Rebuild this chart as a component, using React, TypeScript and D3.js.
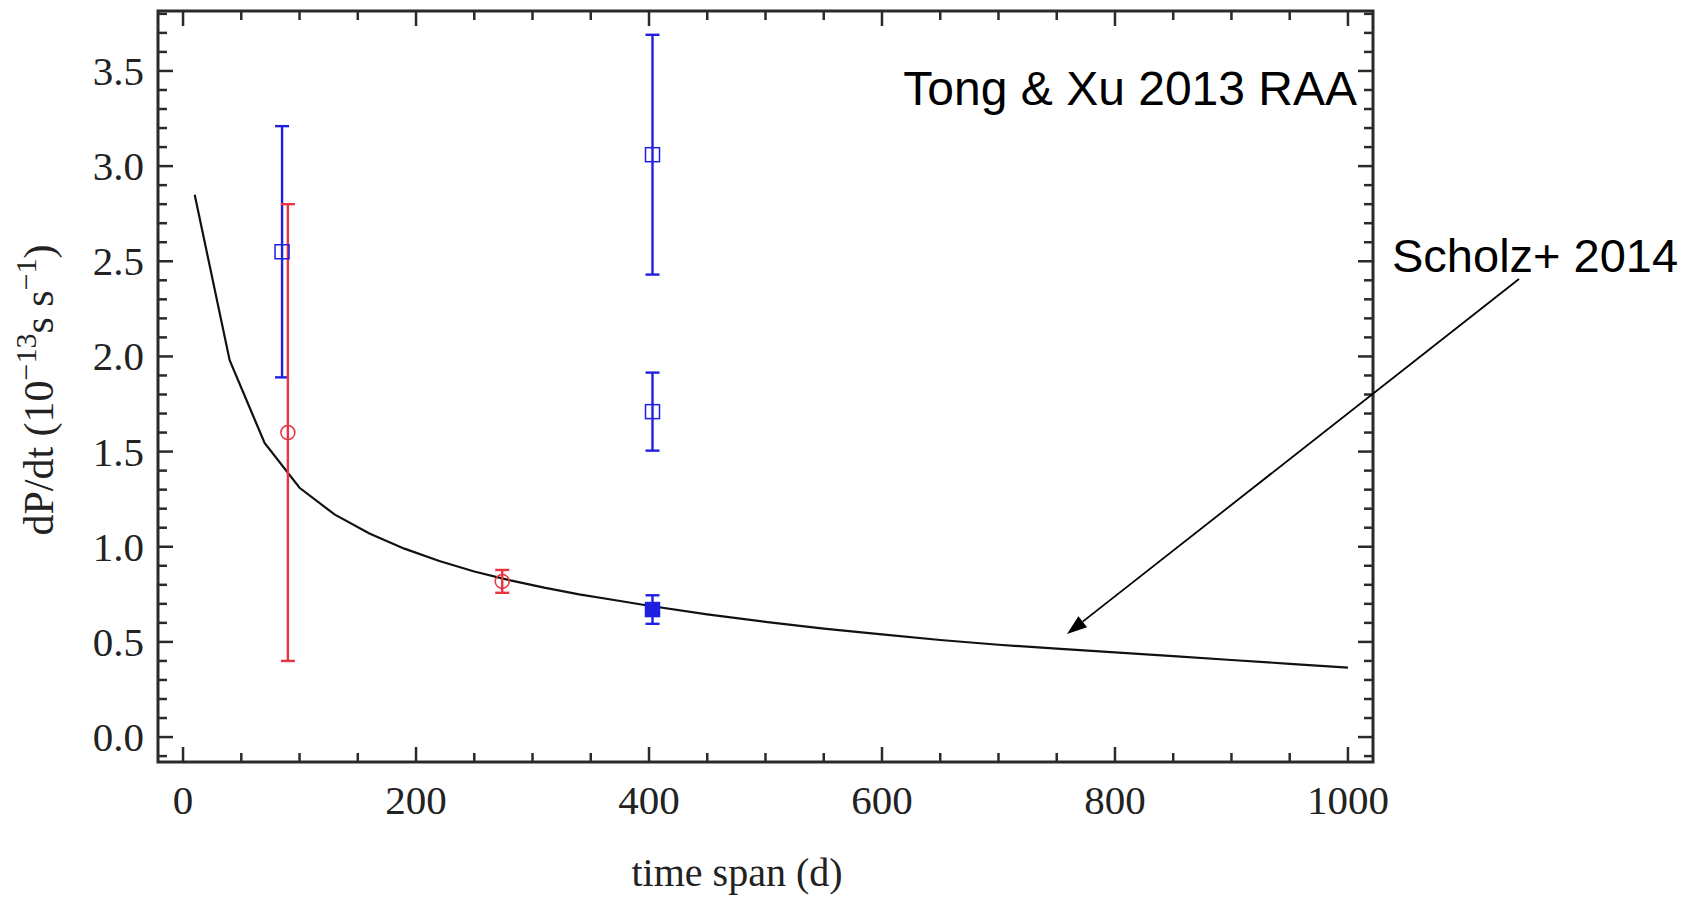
import * as d3 from "d3";

// model curve (Scholz+ 2014)
const curveT = [10, 40, 70, 100, 130, 160, 190, 220, 250, 280, 310, 340, 370, 400, 450, 500, 550, 600, 650, 700, 750, 800, 850, 900, 950, 1000];
const curveDPdt = [2.85, 1.98, 1.545, 1.31, 1.17, 1.07, 0.99, 0.925, 0.87, 0.825, 0.785, 0.75, 0.72, 0.69, 0.645, 0.605, 0.57, 0.54, 0.51, 0.485, 0.465, 0.445, 0.425, 0.405, 0.385, 0.365];

// open blue squares
const blueT = [85, 403, 403];
const blueVal = [2.55, 3.06, 1.71];
const blueErr = [0.66, 0.63, 0.205];

// filled blue square
const filledT = [403];
const filledVal = [0.67];
const filledErr = [0.075];

// open red circles
const redT = [90, 274];
const redVal = [1.6, 0.818];
const redErr = [1.2, 0.06];

const xTickLabels = [0, 200, 400, 600, 800, 1000];
const yTickLabels = ["0.0", "0.5", "1.0", "1.5", "2.0", "2.5", "3.0", "3.5"];

const W = 1704;
const H = 902;
const BLUE = "#1f1fe0";
const RED = "#e8343f";
const AXIS = "#2a2a2a";
const serif = "'Liberation Serif', 'DejaVu Serif', serif";
const sans = "'Liberation Sans', Arial, sans-serif";

export default function App() {
  const x = d3.scaleLinear().domain([-21.5, 1021.5]).range([158, 1373]);
  const y = d3.scaleLinear().domain([-0.131, 3.815]).range([762, 11]);
  const [x0, x1] = x.range();
  const [y0, y1] = y.range();

  const line = d3
    .line<number>()
    .x((_, i) => x(curveT[i]))
    .y((d) => y(d))
    .curve(d3.curveLinear);

  const xMinor = d3.range(0, 1001, 50);
  const yMinor = d3.range(-1, 39).map((v) => v / 10);
  const majLen = 15;
  const minLen = 9;
  const capW = 14;
  const sq = 14;

  const errBar = (t: number, v: number, e: number, color: string, key: string) => (
    <g key={key} stroke={color} strokeWidth={2.4}>
      <line x1={x(t)} x2={x(t)} y1={y(v + e)} y2={y(v - e)} />
      <line x1={x(t) - capW / 2} x2={x(t) + capW / 2} y1={y(v + e)} y2={y(v + e)} />
      <line x1={x(t) - capW / 2} x2={x(t) + capW / 2} y1={y(v - e)} y2={y(v - e)} />
    </g>
  );

  // arrow geometry
  const ax0 = 1519, ay0 = 279, ax1 = 1067, ay1 = 634;
  const ang = Math.atan2(ay1 - ay0, ax1 - ax0);
  const hl = 20, hw = 7;
  const bx = ax1 - hl * Math.cos(ang), by = ay1 - hl * Math.sin(ang);
  const head = [
    [ax1, ay1],
    [bx + hw * Math.sin(ang), by - hw * Math.cos(ang)],
    [bx - hw * Math.sin(ang), by + hw * Math.cos(ang)],
  ]
    .map((p) => p.join(","))
    .join(" ");

  return (
    <div style={{ position: "fixed", left: 0, top: 0, background: "#fff" }}>
      <svg width={W} height={H} viewBox={`0 0 ${W} ${H}`}>
        <rect width={W} height={H} fill="#fff" />

        {/* ticks */}
        <g stroke={AXIS} strokeWidth={2.5}>
          {xMinor.map((t) => {
            const len = t % 200 === 0 ? majLen : minLen;
            return (
              <g key={"xt" + t}>
                <line x1={x(t)} x2={x(t)} y1={y0} y2={y0 - len} />
                <line x1={x(t)} x2={x(t)} y1={y1} y2={y1 + len} />
              </g>
            );
          })}
          {yMinor.map((v) => {
            const len = Math.round(v * 10) % 5 === 0 ? majLen : minLen;
            return (
              <g key={"yt" + v}>
                <line x1={x0} x2={x0 + len} y1={y(v)} y2={y(v)} />
                <line x1={x1} x2={x1 - len} y1={y(v)} y2={y(v)} />
              </g>
            );
          })}
        </g>
        <rect x={x0} y={y1} width={x1 - x0} height={y0 - y1} fill="none" stroke={AXIS} strokeWidth={3} />

        {/* tick labels */}
        <g fontFamily={serif} fontSize={41} fill="#222">
          {xTickLabels.map((t) => (
            <text key={"xl" + t} x={x(t)} y={814} textAnchor="middle">
              {t}
            </text>
          ))}
          {yTickLabels.map((s) => (
            <text key={"yl" + s} x={144} y={y(+s) + 14} textAnchor="end">
              {s}
            </text>
          ))}
        </g>

        {/* axis titles */}
        <text x={737} y={886} textAnchor="middle" fontFamily={serif} fontSize={40} fill="#222">
          time span (d)
        </text>
        <text
          transform="translate(53,390) rotate(-90)"
          textAnchor="middle"
          fontFamily={serif}
          fontSize={42}
          fill="#222"
        >
          dP/dt (10
          <tspan fontSize={30} dy={-17}>−13</tspan>
          <tspan dy={17}>s s</tspan>
          <tspan fontSize={30} dy={-17}>−1</tspan>
          <tspan dy={17}>)</tspan>
        </text>

        {/* model curve */}
        <path d={line(curveDPdt) ?? ""} fill="none" stroke="#111" strokeWidth={2.2} />

        {/* error bars */}
        {blueT.map((t, i) => errBar(t, blueVal[i], blueErr[i], BLUE, "be" + i))}
        {filledT.map((t, i) => errBar(t, filledVal[i], filledErr[i], BLUE, "fe" + i))}
        {redT.map((t, i) => errBar(t, redVal[i], redErr[i], RED, "re" + i))}

        {/* markers */}
        {blueT.map((t, i) => (
          <rect key={"bm" + i} x={x(t) - sq / 2} y={y(blueVal[i]) - sq / 2} width={sq} height={sq} fill="none" stroke={BLUE} strokeWidth={1.5} />
        ))}
        {filledT.map((t, i) => (
          <rect key={"fm" + i} x={x(t) - sq / 2} y={y(filledVal[i]) - sq / 2} width={sq} height={sq} fill={BLUE} stroke={BLUE} strokeWidth={1.5} />
        ))}
        {redT.map((t, i) => (
          <circle key={"rm" + i} cx={x(t)} cy={y(redVal[i])} r={7} fill="none" stroke={RED} strokeWidth={1.5} />
        ))}

        {/* annotations */}
        <text x={1357} y={105} textAnchor="end" fontFamily={sans} fontSize={48} fill="#000">
          Tong &amp; Xu 2013 RAA
        </text>
        <text x={1392} y={272} fontFamily={sans} fontSize={47} fill="#000">
          Scholz+ 2014
        </text>
        <line x1={ax0} y1={ay0} x2={bx} y2={by} stroke="#000" strokeWidth={1.8} />
        <polygon points={head} fill="#000" />
      </svg>
    </div>
  );
}
